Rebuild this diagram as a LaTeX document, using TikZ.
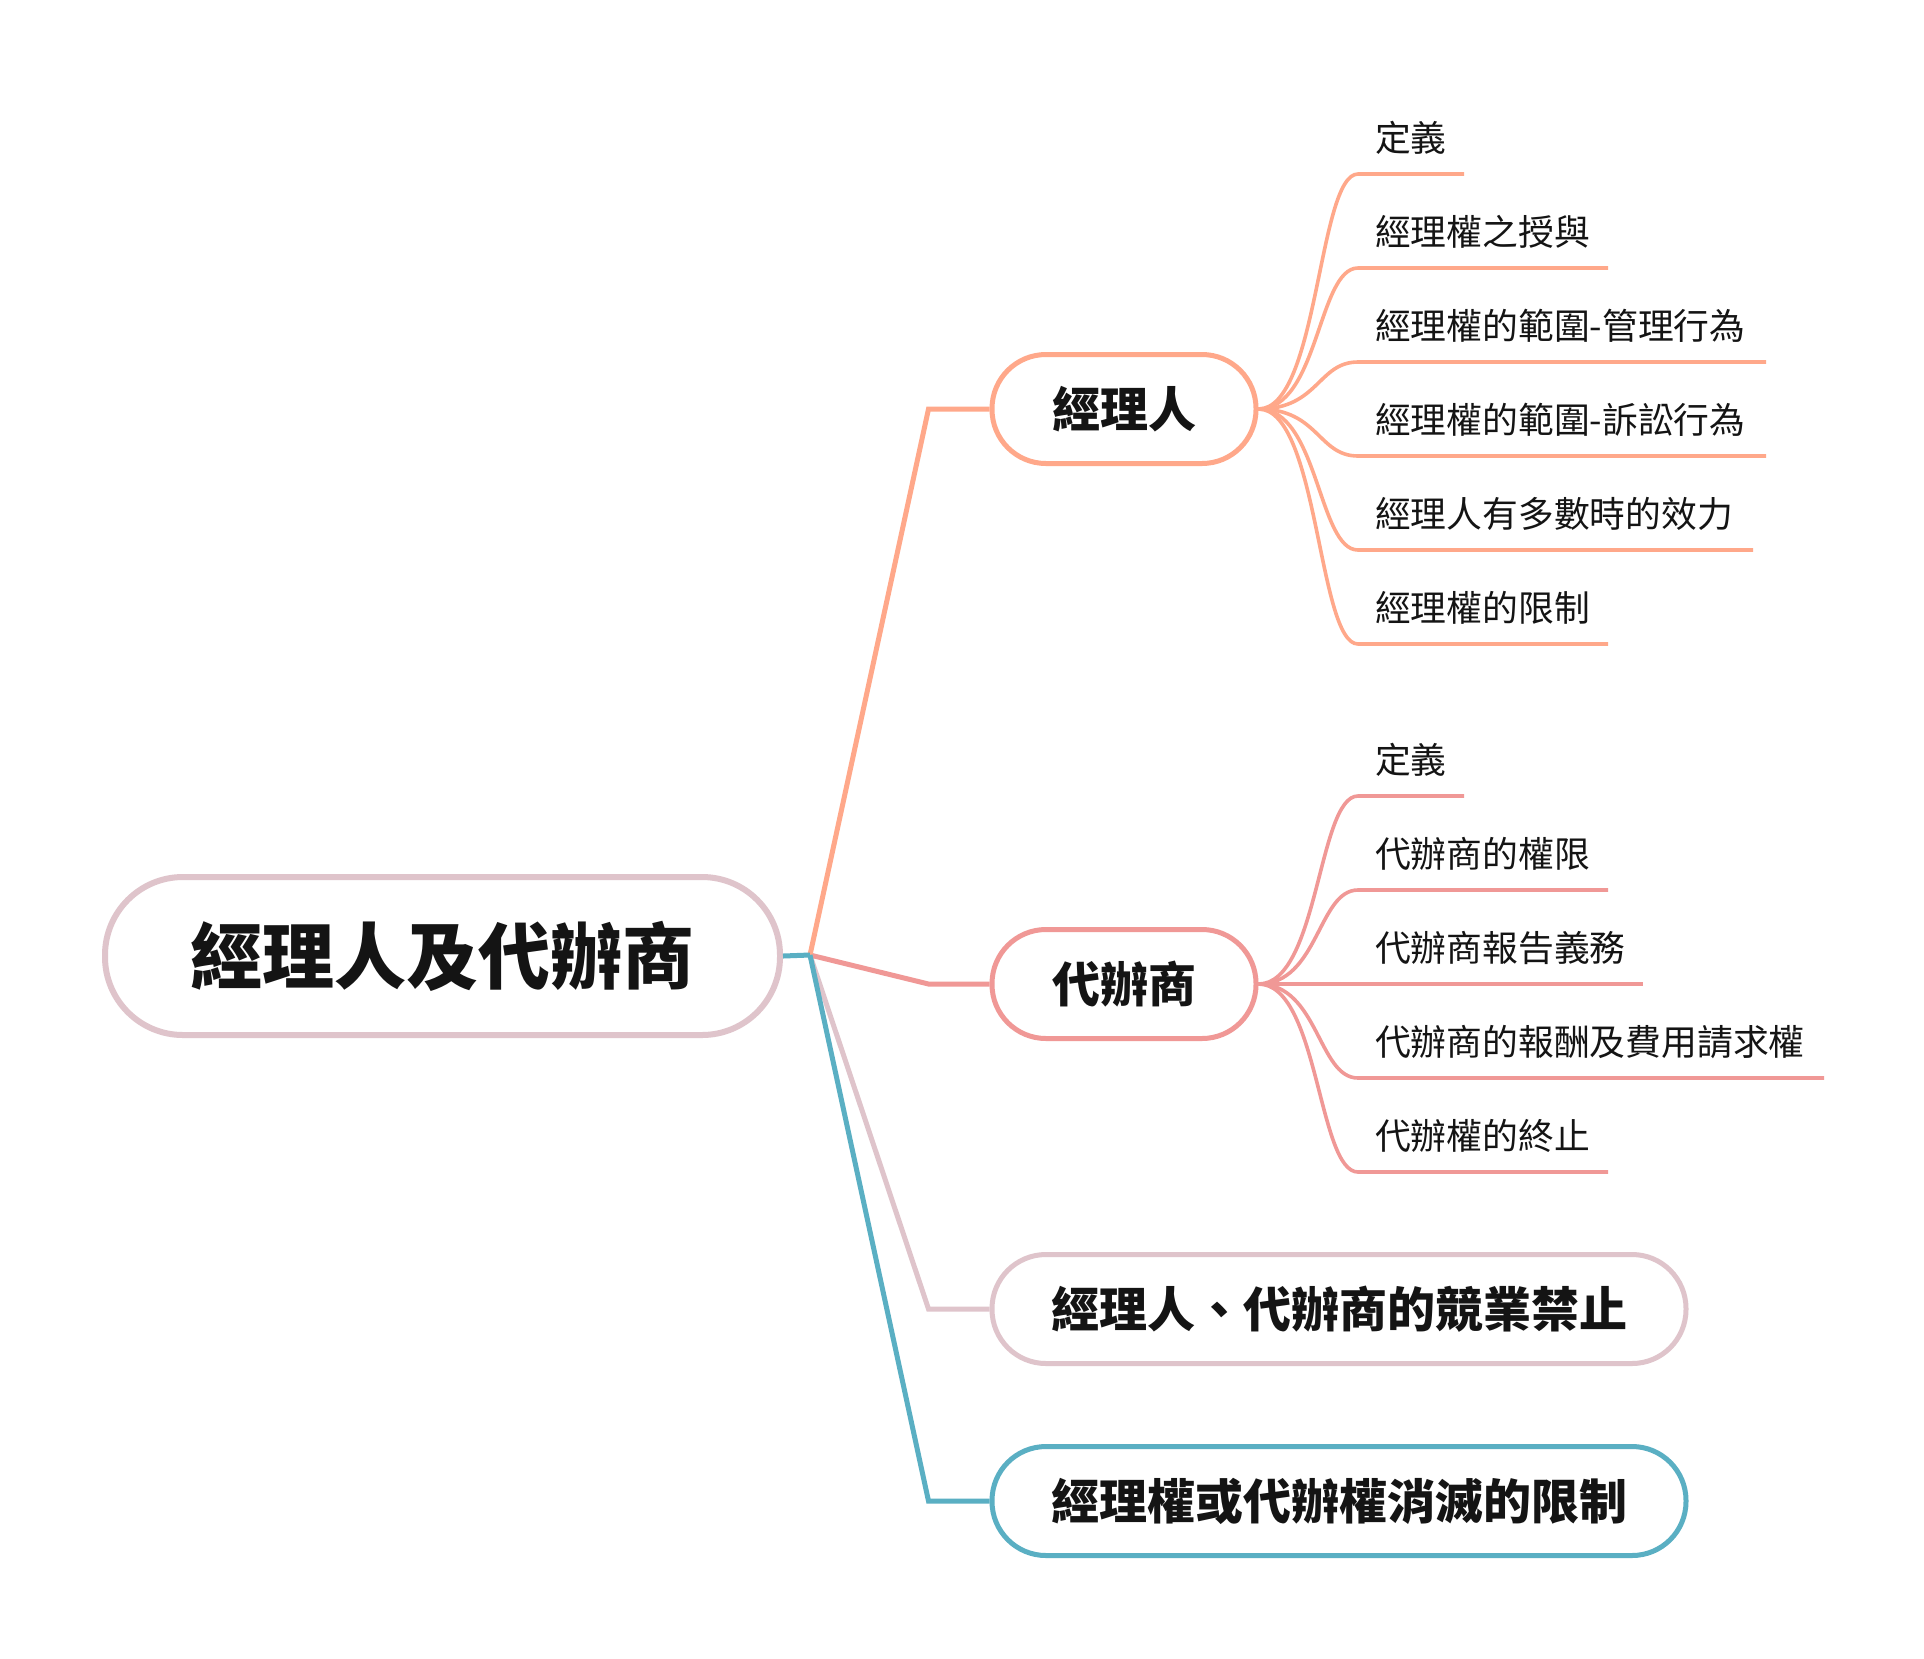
\documentclass[tikz,border=0pt]{standalone}
\usepackage{fontspec}
\setmainfont{Noto Sans CJK TC}
\usetikzlibrary{calc}
\definecolor{cOrange}{RGB}{255,168,138}
\definecolor{cPink}{RGB}{240,152,150}
\definecolor{cMauve}{RGB}{223,196,203}
\definecolor{cTeal}{RGB}{90,175,195}
\definecolor{cText}{RGB}{20,20,20}
\begin{document}
\begin{tikzpicture}[x=1pt,y=-1pt,
  rootbox/.style={draw=cMauve, line width=6pt, fill=white, rounded corners=78pt,
    minimum width=675pt, minimum height=158pt, inner sep=0pt,
    font=\fontsize{72pt}{80pt}\selectfont\bfseries, text=cText,
    text height=63.4pt, text depth=8.6pt},
  branchbox/.style={draw=#1, line width=5pt, fill=white, rounded corners=54pt,
    minimum height=109pt, inner sep=0pt,
    font=\fontsize{48pt}{56pt}\selectfont\bfseries, text=cText,
    text height=42.2pt, text depth=5.8pt},
  leafnode/.style={anchor=south west, inner xsep=17pt, inner ysep=18.7pt, outer sep=0pt,
    font=\fontsize{35.8pt}{42pt}\selectfont, text=cText, align=left,
    text height=31.5pt, text depth=4.3pt},
  trunk/.style={line width=5pt, line join=miter},
  twig/.style={line width=3.6pt, line cap=butt},
]
\useasboundingbox (0,0) rectangle (1924,1658);
\fill[white] (0,0) rectangle (1924,1658);

% root
\node[rootbox] (root) at (442.5,956) {經理人及代辦商};
\coordinate (j) at (810,955);

% branches
\node[branchbox=cOrange, minimum width=264pt, anchor=west] (b1) at (989.5,409) {經理人};
\node[branchbox=cPink, minimum width=264pt, anchor=west] (b2) at (989.5,984) {代辦商};
\node[branchbox=cMauve, minimum width=694pt, anchor=west] (b3) at (989.5,1309) {經理人、代辦商的競業禁止};
\node[branchbox=cTeal, minimum width=694pt, anchor=west] (b4) at (989.5,1501) {經理權或代辦權消滅的限制};

% branch connectors
\draw[trunk, cMauve] (j) -- ($(b3.west)+(-61,0)$) -- (b3.west);
\draw[trunk, cPink] (j) -- ($(b2.west)+(-61,0)$) -- (b2.west);
\draw[trunk, cOrange] (j) -- ($(b1.west)+(-61,0)$) -- (b1.west);
\draw[trunk, cTeal] (j) -- ($(b4.west)+(-61,0)$) -- (b4.west);
\draw[trunk, cTeal] (root.east) -- (j);

% leaves of 經理人
\node[leafnode, text width=72pt]  (m1) at (1358,174) {定義};
\node[leafnode, text width=216pt] (m2) at (1358,268) {經理權之授與};
\node[leafnode, text width=374pt] (m3) at (1358,362) {經理權的範圍-管理行為};
\node[leafnode, text width=374pt] (m4) at (1358,456) {經理權的範圍-訴訟行為};
\node[leafnode, text width=361pt] (m5) at (1358,550) {經理人有多數時的效力};
\node[leafnode, text width=216pt] (m6) at (1358,644) {經理權的限制};
\foreach \m in {m1,m2,m3,m4,m5,m6}{
  \draw[twig, cOrange] (b1.east) .. controls ($(b1.east)+(60,0)$) and ($(\m.south west)+(-40,0)$) .. (\m.south west) -- (\m.south east);
}

% leaves of 代辦商
\node[leafnode, text width=72pt]  (n1) at (1358,796) {定義};
\node[leafnode, text width=216pt] (n2) at (1358,890) {代辦商的權限};
\node[leafnode, text width=251pt] (n3) at (1358,984) {代辦商報告義務};
\node[leafnode, text width=432pt] (n4) at (1358,1078) {代辦商的報酬及費用請求權};
\node[leafnode, text width=216pt] (n5) at (1358,1172) {代辦權的終止};
\foreach \n in {n1,n2,n3,n4,n5}{
  \draw[twig, cPink] (b2.east) .. controls ($(b2.east)+(60,0)$) and ($(\n.south west)+(-40,0)$) .. (\n.south west) -- (\n.south east);
}
\end{tikzpicture}
\end{document}
